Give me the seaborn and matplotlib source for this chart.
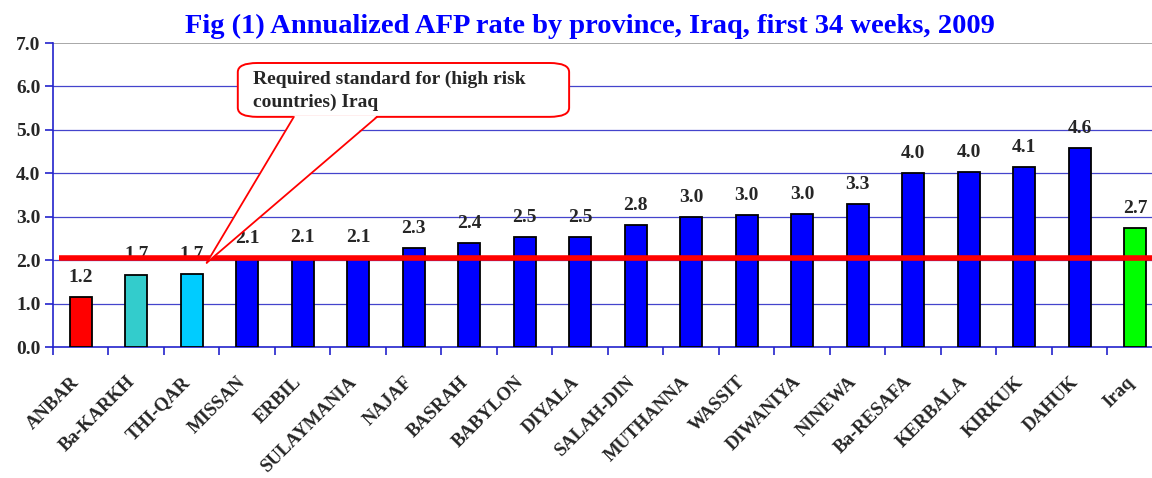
import numpy as np
import pandas as pd
import seaborn as sns
import matplotlib.pyplot as plt
import matplotlib.transforms as mtrans
from matplotlib.patches import FancyBboxPatch, Polygon

provinces = ['ANBAR', 'Ba-KARKH', 'THI-QAR', 'MISSAN', 'ERBIL', 'SULAYMANIA', 'NAJAF',
             'BASRAH', 'BABYLON', 'DIYALA', 'SALAH-DIN', 'MUTHANNA', 'WASSIT', 'DIWANIYA',
             'NINEWA', 'Ba-RESAFA', 'KERBALA', 'KIRKUK', 'DAHUK', 'Iraq']
rates = [1.16, 1.67, 1.69, 2.05, 2.07, 2.08, 2.27, 2.40, 2.53, 2.53, 2.81, 3.00, 3.04,
         3.06, 3.29, 4.01, 4.02, 4.15, 4.58, 2.73]
labels = ['1.2', '1.7', '1.7', '2.1', '2.1', '2.1', '2.3', '2.4', '2.5', '2.5', '2.8', '3.0',
          '3.0', '3.0', '3.3', '4.0', '4.0', '4.1', '4.6', '2.7']
bar_colors = ['#ff0000', '#33cccc', '#00ccff'] + ['#0000ff'] * 16 + ['#00ff00']
standard = 2.05

df = pd.DataFrame({'province': provinces, 'rate': rates})

sns.set_style('white')
plt.rcParams['font.family'] = ['Liberation Serif', 'DejaVu Serif']
plt.rcParams['font.weight'] = 'bold'

fig = plt.figure(figsize=(11.52, 4.78), dpi=100)
ax = fig.add_axes([0.046, 0.274, 0.9635, 0.636])

sns.barplot(data=df, x='province', y='rate', hue='province', palette=bar_colors,
            saturation=1, legend=False, width=0.4, edgecolor='black', linewidth=1.3,
            ax=ax, zorder=3)

# grid lines
for v in range(1, 7):
    ax.axhline(v, color='#4444cc', lw=0.9, zorder=1)
ax.axhline(7, color='#999999', lw=1.2, zorder=1)

# required standard line
ax.hlines(standard, -0.4, 19.6, color='red', lw=4, zorder=5)

# value labels
for i, (v, t) in enumerate(zip(rates, labels)):
    ax.annotate(t, (i, v), xytext=(0, 8), textcoords='offset points', ha='center',
                va='bottom', fontsize=14, fontweight='bold', zorder=4)

ax.set_xlim(-0.5, 19.5)
ax.set_ylim(0, 7)
ax.set_yticks(np.arange(0, 7.1, 1))
ax.set_yticklabels([f'{v:.1f}' for v in np.arange(0, 7.1, 1)], fontsize=14, fontweight='bold')
ax.set_xticks(range(len(provinces)))
ax.set_xticklabels(provinces, rotation=45, ha='right', rotation_mode='anchor',
                   fontsize=13.5, fontweight='bold')
ax.set_xticks(np.arange(-0.5, 19.6, 1), minor=True)
ax.tick_params(axis='x', which='major', bottom=True, length=0, pad=19)
ax.tick_params(axis='x', which='minor', bottom=True, length=6, color='#2222cc', width=1.2)
ax.tick_params(axis='y', left=True, length=6, color='#2222cc', width=1.2, pad=3)
shift = mtrans.ScaledTranslation(-10 / 100, 0, fig.dpi_scale_trans)
for lab in ax.get_xticklabels():
    lab.set_transform(lab.get_transform() + shift)
ax.set_xlabel('')
ax.set_ylabel('')
for s in ['top', 'right']:
    ax.spines[s].set_visible(False)
for s in ['left', 'bottom']:
    ax.spines[s].set_color('#2222cc')
    ax.spines[s].set_linewidth(1.2)

# callout
box = FancyBboxPatch((2.83, 5.3), 5.97, 1.24, boxstyle='round,pad=0,rounding_size=0.35',
                     facecolor='white', edgecolor='red', lw=1.4, zorder=6,
                     mutation_aspect=0.6, clip_on=False)
ax.add_patch(box)
tip = (2.27, 1.94)
b1 = (3.84, 5.3)
b2 = (5.34, 5.3)
ax.add_patch(Polygon([(b1[0], 5.33), tip, (b2[0], 5.33)], closed=True, facecolor='white',
                     edgecolor='none', zorder=7))
ax.plot([b1[0], tip[0]], [b1[1], tip[1]], color='red', lw=1.3, zorder=8)
ax.plot([b2[0], tip[0]], [b2[1], tip[1]], color='red', lw=1.3, zorder=8)
ax.text(3.1, 6.36, 'Required standard for (high risk\ncountries) Iraq', ha='left', va='top',
        fontsize=14, fontweight='bold', linespacing=1.45, zorder=9)

fig.text(0.512, 0.945, 'Fig (1) Annualized AFP rate by province, Iraq, first 34 weeks, 2009',
         ha='center', va='center', color='#0000ff', fontsize=20.5, fontweight='bold')

fig.savefig('out.png', dpi=100)
